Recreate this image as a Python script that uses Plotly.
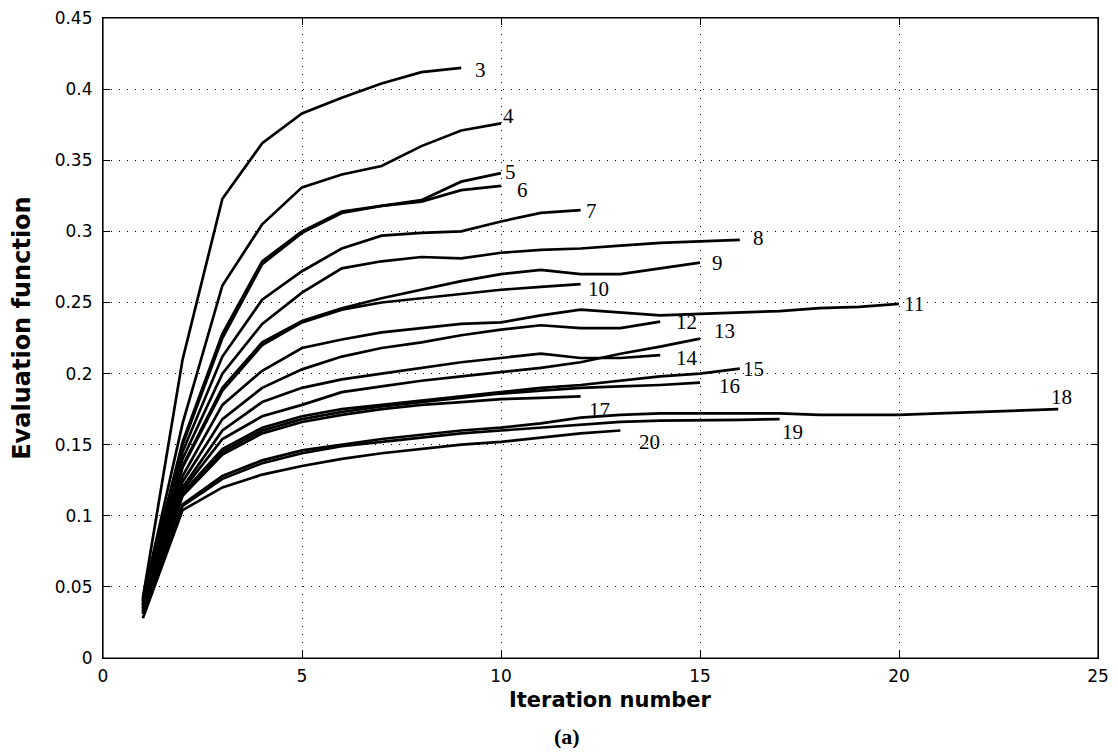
import plotly.graph_objects as go

# ---- data: evaluation function per iteration (iteration = 1..len) ----
curve_labels = ["3", "4", "5", "6", "7", "8", "9", "10", "11", "12",
                "13", "14", "15", "16", "17", "18", "19", "20"]

series_3 = [0.042, 0.210, 0.323, 0.362, 0.383, 0.394, 0.404, 0.412, 0.415]
series_4 = [0.041, 0.165, 0.262, 0.305, 0.331, 0.340, 0.346, 0.360, 0.371, 0.376]
series_5 = [0.040, 0.152, 0.228, 0.279, 0.300, 0.314, 0.318, 0.322, 0.335, 0.341]
series_6 = [0.040, 0.150, 0.225, 0.277, 0.299, 0.313, 0.318, 0.321, 0.329, 0.332]
series_7 = [0.039, 0.145, 0.212, 0.252, 0.272, 0.288, 0.297, 0.299, 0.300, 0.307, 0.313, 0.315]
series_8 = [0.038, 0.140, 0.200, 0.235, 0.257, 0.274, 0.279, 0.282, 0.281, 0.285, 0.287,
            0.288, 0.290, 0.292, 0.293, 0.294]
series_9 = [0.037, 0.135, 0.190, 0.222, 0.237, 0.246, 0.253, 0.259, 0.265, 0.270, 0.273,
            0.270, 0.270, 0.274, 0.278]
series_10 = [0.037, 0.134, 0.188, 0.220, 0.236, 0.245, 0.250, 0.253, 0.256, 0.259, 0.261, 0.263]
series_11 = [0.036, 0.128, 0.178, 0.202, 0.218, 0.224, 0.229, 0.232, 0.235, 0.236, 0.241,
             0.245, 0.243, 0.241, 0.242, 0.243, 0.244, 0.246, 0.247, 0.249]
series_12 = [0.035, 0.124, 0.168, 0.190, 0.203, 0.212, 0.218, 0.222, 0.227, 0.231, 0.234,
             0.232, 0.232, 0.2366]
series_13 = [0.034, 0.118, 0.154, 0.170, 0.178, 0.187, 0.191, 0.195, 0.198, 0.201, 0.204,
             0.208, 0.214, 0.219, 0.2246]
series_14 = [0.035, 0.120, 0.160, 0.180, 0.190, 0.196, 0.200, 0.204, 0.208, 0.211, 0.214,
             0.211, 0.211, 0.213]
series_15 = [0.033, 0.116, 0.147, 0.162, 0.170, 0.175, 0.178, 0.181, 0.184, 0.187, 0.190,
             0.192, 0.195, 0.198, 0.200, 0.2035]
series_16 = [0.033, 0.115, 0.145, 0.160, 0.168, 0.173, 0.177, 0.180, 0.183, 0.186, 0.188,
             0.190, 0.191, 0.192, 0.1936]
series_17 = [0.032, 0.114, 0.143, 0.158, 0.166, 0.171, 0.175, 0.178, 0.180, 0.182, 0.183, 0.184]
series_18 = [0.031, 0.108, 0.128, 0.139, 0.146, 0.150, 0.154, 0.157, 0.160, 0.162, 0.165,
             0.169, 0.171, 0.172, 0.172, 0.172, 0.172, 0.171, 0.171, 0.171, 0.172, 0.173,
             0.174, 0.175]
series_19 = [0.031, 0.107, 0.126, 0.137, 0.144, 0.149, 0.152, 0.155, 0.158, 0.160, 0.162,
             0.164, 0.166, 0.167, 0.167, 0.1675, 0.168]
series_20 = [0.028, 0.104, 0.120, 0.129, 0.135, 0.140, 0.144, 0.147, 0.150, 0.152, 0.155,
             0.158, 0.160]

all_series = [series_3, series_4, series_5, series_6, series_7, series_8, series_9,
              series_10, series_11, series_12, series_13, series_14, series_15,
              series_16, series_17, series_18, series_19, series_20]

x_ticks = [0, 5, 10, 15, 20, 25]
x_ticktext = ["0", "5", "10", "15", "20", "25"]
y_ticks = [0, 0.05, 0.1, 0.15, 0.2, 0.25, 0.3, 0.35, 0.4, 0.45]
y_ticktext = ["0", "0.05", "0.1", "0.15", "0.2", "0.25", "0.3", "0.35", "0.4", "0.45"]

x_title = "Iteration number"
y_title = "Evaluation function"
caption = "(a)"

# label offsets (pixels) from the end of each curve
label_shift = {
    "3": (19, -2), "4": (7, 7), "5": (9, 1), "6": (21, -4), "7": (11, -1),
    "8": (19, 2), "9": (17, 0), "10": (18, -5), "11": (15, 0), "12": (26, 0),
    "13": (24, 8), "14": (27, -3), "15": (14, 0), "16": (29, -3), "17": (19, -14),
    "18": (3, 12), "19": (13, -13), "20": (29, -11),
}

SERIF = "Liberation Serif, Times New Roman, serif"
SANS = "DejaVu Sans, Arial, sans-serif"

fig = go.Figure()
for name, vals in zip(curve_labels, all_series):
    xs = list(range(1, len(vals) + 1))
    fig.add_trace(go.Scatter(x=xs, y=vals, mode="lines", name=name,
                             line=dict(color="black", width=2.7),
                             showlegend=False, hoverinfo="skip"))
    dx, dy = label_shift[name]
    fig.add_annotation(x=xs[-1], y=vals[-1], text=name, showarrow=False,
                       xshift=dx, yshift=dy, xanchor="center", yanchor="middle",
                       font=dict(family=SERIF, size=21, color="black"))

axis_common = dict(
    showline=True, linecolor="black", linewidth=1.2, mirror="ticks",
    ticks="inside", ticklen=7, tickcolor="black", tickwidth=1.2,
    showgrid=True, gridcolor="black", gridwidth=1, griddash="1px,7px",
    zeroline=False, automargin=False, ticklabeloverflow="allow",
    tickfont=dict(family=SANS, size=17, color="black"),
)

fig.update_xaxes(range=[0, 25], tickvals=x_ticks, ticktext=x_ticktext,
                 ticklabelstandoff=2, **axis_common)
fig.update_yaxes(range=[0, 0.4501], tickvals=y_ticks, ticktext=y_ticktext,
                 ticklabelstandoff=6, **axis_common)

# plot frame (box around the axes)
fig.add_shape(type="rect", xref="paper", yref="paper", x0=0, y0=0, x1=1, y1=1,
              line=dict(color="black", width=1.2), fillcolor="rgba(0,0,0,0)",
              layer="above")

fig.add_annotation(x=0.51, y=-0.066, xref="paper", yref="paper",
                   text="<b>%s</b>" % x_title, showarrow=False,
                   xanchor="center", yanchor="middle",
                   font=dict(family=SANS, size=21, color="black"))
fig.add_annotation(x=-0.081, y=0.515, xref="paper", yref="paper",
                   text="<b>%s</b>" % y_title, showarrow=False, textangle=-90,
                   xanchor="center", yanchor="middle",
                   font=dict(family=SANS, size=24, color="black"))
fig.add_annotation(x=0.466, y=-0.123, xref="paper", yref="paper",
                   text="<b>%s</b>" % caption, showarrow=False,
                   xanchor="center", yanchor="middle",
                   font=dict(family=SERIF, size=22, color="black"))

# the page body adds an 8px margin, so the figure is sized to fit inside it
fig.update_layout(
    width=1102, height=740,
    margin=dict(l=95, r=12, t=10, b=90),
    paper_bgcolor="white", plot_bgcolor="white",
)

fig.write_html("out.html")
